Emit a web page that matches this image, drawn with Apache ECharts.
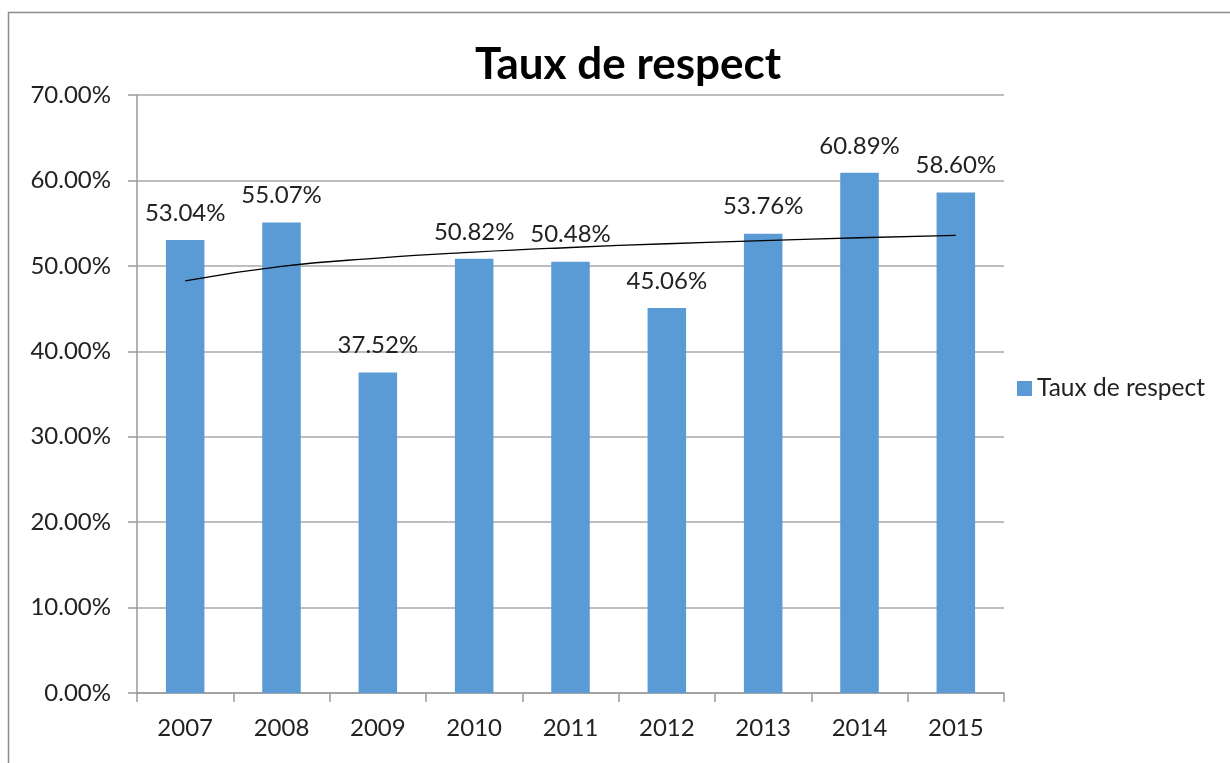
<!DOCTYPE html>
<html>
<head>
<meta charset="utf-8">
<script src="https://cdn.jsdelivr.net/npm/echarts@6/dist/echarts.min.js"></script>
<style>
  html, body { margin: 0; padding: 0; background: #fff; }
  #chart { width: 1230px; height: 763px; }
</style>
</head>
<body>
<div id="chart"></div>
<script>
const years = ["2007", "2008", "2009", "2010", "2011", "2012", "2013", "2014", "2015"];
const tauxRespect = [53.04, 55.07, 37.52, 50.82, 50.48, 45.06, 53.76, 60.89, 58.60];
// trend line
const tendance = [48.25, 49.93, 50.91, 51.61, 52.15, 52.59, 52.96, 53.29, 53.57];

const font = "Lato, 'Open Sans', sans-serif";

const chart = echarts.init(document.getElementById("chart"));

const option = {
  animation: false,
  textStyle: { fontFamily: font },
  title: {
    text: "Taux de respect",
    left: 623,
    textAlign: "center",
    top: 38,
    textStyle: { fontSize: 44, fontWeight: "bold", color: "#000", fontFamily: font },
  },
  legend: {
    data: [{ name: "Taux de respect", icon: "rect" }],
    orient: "vertical",
    left: 1012,
    top: 371,
    itemWidth: 15,
    itemHeight: 15,
    itemGap: 6,
    textStyle: { fontSize: 24.5, color: "#222", fontFamily: font },
  },
  grid: { left: 137, right: 226, top: 95, bottom: 70 },
  xAxis: {
    type: "category",
    data: years,
    axisLine: { lineStyle: { color: "#9a9a9a", width: 1.5 } },
    axisTick: { show: true, length: 9, lineStyle: { color: "#9a9a9a", width: 1.5 } },
    axisLabel: { fontSize: 24, color: "#222", margin: 23, fontFamily: font },
  },
  yAxis: {
    type: "value",
    min: 0,
    max: 70,
    interval: 10,
    axisLine: { show: true, lineStyle: { color: "#9a9a9a", width: 1.5 } },
    axisTick: { show: true, length: 9, lineStyle: { color: "#9a9a9a", width: 1.5 } },
    splitLine: { lineStyle: { color: "#a8a8a8", width: 1.5 } },
    axisLabel: {
      fontSize: 24,
      color: "#222",
      margin: 26,
      fontFamily: font,
      formatter: (v) => v.toFixed(2) + "%",
    },
  },
  series: [
    {
      name: "Taux de respect",
      type: "bar",
      data: tauxRespect,
      barWidth: "40%",
      itemStyle: { color: "#5B9BD5" },
      label: {
        show: true,
        position: "top",
        distance: 15,
        fontSize: 24,
        color: "#222",
        fontFamily: font,
        formatter: (p) => p.value.toFixed(2) + "%",
      },
    },
    {
      name: "Tendance",
      type: "line",
      data: tendance,
      smooth: true,
      symbol: "none",
      lineStyle: { color: "#000", width: 1.3 },
      z: 5,
    },
  ],
  graphic: [
    {
      type: "rect",
      shape: { x: 8.5, y: 12.5, width: 1240, height: 780 },
      style: { fill: null, stroke: "#8c8c8c", lineWidth: 1.5 },
      silent: true,
    },
  ],
};

chart.setOption(option);
</script>
</body>
</html>
